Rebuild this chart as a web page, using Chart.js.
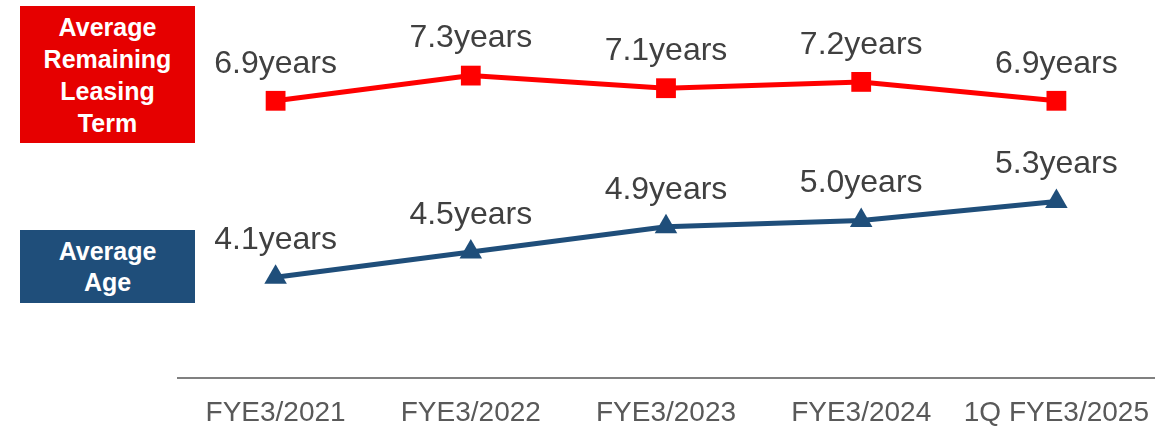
<!DOCTYPE html>
<html>
<head>
<meta charset="utf-8">
<script src="https://cdn.jsdelivr.net/npm/chart.js@4.4.1/dist/chart.umd.min.js"></script>
<style>
  html, body { margin: 0; padding: 0; background: #fff; }
  #wrap { position: relative; width: 1175px; height: 428px; }
  .tag {
    position: absolute; left: 20px; width: 175px;
    display: flex; align-items: center; justify-content: center; text-align: center;
    color: #fff; font-family: "Liberation Sans", Arial, sans-serif; font-weight: bold;
    font-size: 25px; line-height: 32px;
  }
  #tagLease { top: 6px; height: 137px; background: #e60000; }
  #tagAge { top: 230px; height: 73px; background: #1f4e7a; line-height: 31px; }
</style>
</head>
<body>
<div id="wrap">
  <canvas id="ageChart" width="1175" height="428"></canvas>
  <div class="tag" id="tagLease">Average<br>Remaining<br>Leasing<br>Term</div>
  <div class="tag" id="tagAge">Average<br>Age</div>
</div>
<script>
// chart data
const categories = ['FYE3/2021', 'FYE3/2022', 'FYE3/2023', 'FYE3/2024', '1Q FYE3/2025'];
const leasingTerm = [6.9, 7.3, 7.1, 7.2, 6.9];
const averageAge = [4.1, 4.5, 4.9, 5.0, 5.3];

// draws "x.xyears" above every point
const valueLabels = {
  id: 'valueLabels',
  afterDatasetsDraw(chart) {
    const ctx = chart.ctx;
    ctx.save();
    ctx.font = '32px "Liberation Sans", Arial, sans-serif';
    ctx.fillStyle = '#404040';
    ctx.textAlign = 'center';
    ctx.textBaseline = 'middle';
    chart.data.datasets.forEach((ds, i) => {
      chart.getDatasetMeta(i).data.forEach((pt, j) => {
        ctx.fillText(ds.data[j].toFixed(1) + 'years', pt.x, pt.y - 37);
      });
    });
    ctx.restore();
  }
};

new Chart(document.getElementById('ageChart'), {
  type: 'line',
  data: {
    labels: categories,
    datasets: [{
      label: 'Average Remaining Leasing Term',
      data: leasingTerm,
      borderColor: '#ff0000',
      backgroundColor: '#ff0000',
      borderWidth: 5,
      tension: 0,
      pointStyle: 'rect',
      pointRadius: 14,
      pointBorderWidth: 0
    }, {
      label: 'Average Age',
      data: averageAge,
      borderColor: '#1f4e7a',
      backgroundColor: '#1f4e7a',
      borderWidth: 5,
      tension: 0,
      pointStyle: 'triangle',
      pointRadius: 13,
      pointBorderWidth: 0
    }]
  },
  options: {
    responsive: false,
    animation: false,
    layout: { autoPadding: false, padding: { left: 178, right: 21, top: 0, bottom: 0 } },
    scales: {
      x: {
        offset: true,
        grid: { display: false, drawTicks: false },
        border: { display: true, color: '#808080', width: 2 },
        ticks: {
          color: '#595959',
          padding: 18,
          font: { family: '"Liberation Sans", Arial, sans-serif', size: 28 }
        },
        afterFit(scale) { scale.height = 50; }
      },
      y: {
        display: false,
        min: 2.5,
        max: 8.5
      }
    },
    plugins: {
      legend: { display: false },
      tooltip: { enabled: false }
    }
  },
  plugins: [valueLabels]
});
</script>
</body>
</html>
